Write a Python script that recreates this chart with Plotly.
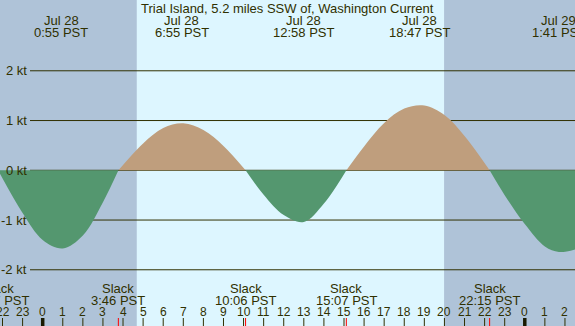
import plotly.graph_objects as go

# ---------------- data ----------------
title = "Trial Island, 5.2 miles SSW of, Washington Current"

# hours since Jul 28 00:00 PST, current speed in knots (+ flood, - ebb)
hours = [-2.22, -1, 0, 1, 2, 3, 3.77, 5, 6, 7, 8, 9, 10.1, 11, 12, 13, 14, 15.12,
         16, 17, 18, 19, 20, 21, 22.25, 23, 24, 25, 25.7, 26.5]
knots = [0, -0.86, -1.40, -1.57, -1.31, -0.64, 0, 0.54, 0.85, 0.945, 0.81, 0.49, 0,
         -0.49, -0.90, -1.04, -0.67, 0, 0.48, 0.95, 1.24, 1.30, 1.11, 0.69, 0,
         -0.50, -1.08, -1.53, -1.64, -1.59]

max_dates = ["Jul 28", "Jul 28", "Jul 28", "Jul 28", "Jul 29"]
max_times = ["0:55", "6:55", "12:58", "18:47", "1:41"]

slack_dates = ["Jul 27", "Jul 28", "Jul 28", "Jul 28", "Jul 28"]
slack_times = ["21:47", "3:46", "10:06", "15:07", "22:15"]

sun_dates = ["Jul 28", "Jul 28"]
sun_times = ["4:41", "19:59"]

kt_levels = [2, 1, 0, -1, -2]
kt_labels = ["2 kt", "1 kt", "0 kt", "-1 kt", "-2 kt"]

hour_ticks = list(range(-2, 27))
hour_labels = [str(h % 24) for h in hour_ticks]

# ---------------- style ----------------
W, H = 575, 326
X_RANGE = [-2.125, 26.5]
Y_RANGE = [-3.13, 3.423]
NIGHT = "#afc3d8"
DAY = "#ddf6ff"
FLOOD = "#bf9e7d"
EBB = "#54976f"
FG = "#303000"
FONT = "Liberation Sans"
FS = 13


def to_hours(date, time):
    day = int(date.split()[1]) - 28
    h, m = time.split(":")
    return day * 24 + int(h) + int(m) / 60


max_x = [to_hours(d, t) for d, t in zip(max_dates, max_times)]
slack_x = [to_hours(d, t) for d, t in zip(slack_dates, slack_times)]
sun_x = [to_hours(d, t) for d, t in zip(sun_dates, sun_times)]

fig = go.Figure()

# fills, one trace per tide phase (split at slack points)
zeros = [i for i, v in enumerate(knots) if v == 0]
bounds = zeros + [len(knots) - 1]
for a, b in zip(bounds[:-1], bounds[1:]):
    xs = hours[a:b + 1]
    ys = knots[a:b + 1]
    neg = sum(ys) < 0
    fig.add_trace(go.Scatter(
        x=xs, y=ys, mode="lines", line=dict(width=0, shape="spline", smoothing=1.0),
        fill="tozeroy", fillcolor=EBB if neg else FLOOD, hoverinfo="skip",
        showlegend=False))


def paper_x(t):
    return (t - X_RANGE[0]) / (X_RANGE[1] - X_RANGE[0])


annotations = [dict(text=title, xref="paper", yref="y2", x=0.5, y=8, showarrow=False,
                    xanchor="center", yanchor="middle",
                    font=dict(family=FONT, size=FS, color=FG))]


def labels(xs, texts, ypix, size=FS):
    for x, t in zip(xs, texts):
        annotations.append(dict(text=t, xref="paper", yref="y2", x=paper_x(x), y=ypix,
                                showarrow=False, xanchor="center", yanchor="middle",
                                font=dict(family=FONT, size=size, color=FG)))


labels(max_x, max_dates, 20)
labels(max_x, [t + " PST" for t in max_times], 32)
labels(slack_x, ["Slack"] * len(slack_x), 288)
labels(slack_x, [t + " PST" for t in slack_times], 300)
labels(hour_ticks, hour_labels, 312, size=12)


# tick marks at bottom
def tick_trace(xs, color, width):
    tx, ty = [], []
    for x in xs:
        tx += [x, x, None]
        ty += [318, 326, None]
    fig.add_trace(go.Scatter(x=tx, y=ty, mode="lines", yaxis="y2",
                             line=dict(color=color, width=width), cliponaxis=False,
                             hoverinfo="skip", showlegend=False))


tick_trace([h for h in hour_ticks if h % 24 != 0], FG, 1)
tick_trace([h for h in hour_ticks if h % 24 == 0], "#1a1a00", 3.5)
tick_trace(slack_x, "#ff0000", 1)

shapes = [dict(type="rect", xref="x", yref="paper", x0=sun_x[0], x1=sun_x[1], y0=0, y1=1,
               fillcolor=DAY, line=dict(width=0), layer="below")]
for lv in kt_levels:
    shapes.append(dict(type="line", xref="paper", yref="y", x0=30 / W, x1=1, y0=lv, y1=lv,
                       line=dict(color=FG, width=1), layer="below"))

for lv, lab in zip(kt_levels, kt_labels):
    annotations.append(dict(text=lab, xref="paper", yref="y", x=28.5 / W, y=lv,
                            showarrow=False, xanchor="right", yanchor="middle",
                            font=dict(family=FONT, size=FS, color=FG)))

fig.update_layout(
    width=W, height=H, margin=dict(l=0, r=0, t=0, b=0, pad=0),
    paper_bgcolor=NIGHT, plot_bgcolor=NIGHT,
    xaxis=dict(range=X_RANGE, visible=False, fixedrange=True),
    yaxis=dict(range=Y_RANGE, visible=False, fixedrange=True),
    yaxis2=dict(range=[H, 0], overlaying="y", visible=False, fixedrange=True),
    shapes=shapes, annotations=annotations, showlegend=False,
)

fig.write_html("out.html", config={"displayModeBar": False})
